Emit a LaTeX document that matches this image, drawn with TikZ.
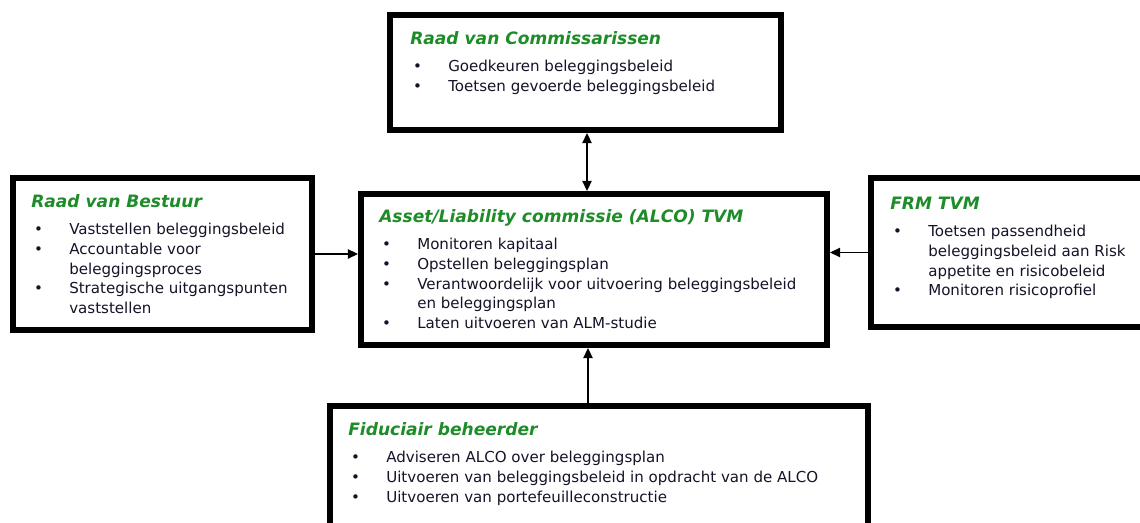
\documentclass[tikz,border=0pt]{standalone}
\usepackage{fontspec}
\setmainfont{DejaVu Sans}
\usetikzlibrary{arrows.meta}
\definecolor{titelgroen}{RGB}{30,140,40}
\definecolor{tekstkleur}{RGB}{20,20,40}
% titre vert et puce de chaque cadre
\newcommand{\kop}[1]{\multicolumn{2}{@{}l@{}}{\fontsize{12.8}{15}\selectfont\bfseries\itshape\color{titelgroen}#1}\\[5.5pt]}
\newcommand{\punt}{\hspace*{2.2pt}\textbullet}
\begin{document}
\begin{tikzpicture}[x=0.75pt,y=-0.75pt,
	kader/.style 2 args={draw,line width=4.6pt,fill=white,minimum width=#1*0.75pt,minimum height=#2*0.75pt,inner sep=0pt},
	tekst/.style={anchor=base west,inner sep=0pt,text=tekstkleur,font=\fontsize{11.3}{14.7}\selectfont},
	pijl/.style={line width=1pt,-{Triangle[length=7.5pt,width=7pt]}},
	dubbelpijl/.style={line width=1pt,{Triangle[length=7.5pt,width=7pt]}-{Triangle[length=7.5pt,width=7pt]}}]
	\useasboundingbox (0,0) rectangle (1140,523);
%					Tracé des cadres :
	\node[kader={391}{115}] (rvc) at (585.5,72.5) {};
	\node[kader={466}{151}] (alco) at (594,269.5) {};
	\node[kader={299}{152}] (rvb) at (162.5,254) {};
	\node[kader={275}{149}] (frm) at (1008.5,252.5) {};
	\node[kader={538}{124}] (fid) at (599,468) {};
%					Textes des cadres :
	\node[tekst] (rvc-t) at (410,45) {\begin{tabular}[t]{@{}p{28.5pt}@{}l@{}}
		\kop{Raad van Commissarissen}
		\punt & Goedkeuren beleggingsbeleid\\
		\punt & Toetsen gevoerde beleggingsbeleid
	\end{tabular}};
	\node[tekst] (alco-t) at (379,223) {\begin{tabular}[t]{@{}p{28.5pt}@{}l@{}}
		\kop{Asset/Liability commissie (ALCO) TVM}
		\punt & Monitoren kapitaal\\
		\punt & Opstellen beleggingsplan\\
		\punt & Verantwoordelijk voor uitvoering beleggingsbeleid\\
		 & en beleggingsplan\\
		\punt & Laten uitvoeren van ALM-studie
	\end{tabular}};
	\node[tekst] (rvb-t) at (31,208) {\begin{tabular}[t]{@{}p{28.5pt}@{}l@{}}
		\kop{Raad van Bestuur}
		\punt & Vaststellen beleggingsbeleid\\
		\punt & Accountable voor\\
		 & beleggingsproces\\
		\punt & Strategische uitgangspunten\\
		 & vaststellen
	\end{tabular}};
	\node[tekst] (frm-t) at (890,210) {\begin{tabular}[t]{@{}p{28.5pt}@{}l@{}}
		\kop{FRM TVM}
		\punt & Toetsen passendheid\\
		 & beleggingsbeleid aan Risk\\
		 & appetite en risicobeleid\\
		\punt & Monitoren risicoprofiel
	\end{tabular}};
	\node[tekst] (fid-t) at (348,436) {\begin{tabular}[t]{@{}p{28.5pt}@{}l@{}}
		\kop{Fiduciair beheerder}
		\punt & Adviseren ALCO over beleggingsplan\\
		\punt & Uitvoeren van beleggingsbeleid in opdracht van de ALCO\\
		\punt & Uitvoeren van portefeuilleconstructie
	\end{tabular}};
%					Tracé des flèches :
	\coordinate (as1) at (587,0);
	\coordinate (as2) at (588,0);
	\draw[dubbelpijl] (rvc.south -| as1) -- (alco.north -| as1);
	\draw[pijl] (rvb.east) -- (rvb.east -| alco.west);
	\draw[pijl] (frm.west) -- (frm.west -| alco.east);
	\draw[pijl] (fid.north -| as2) -- (alco.south -| as2);
\end{tikzpicture}
\end{document}
